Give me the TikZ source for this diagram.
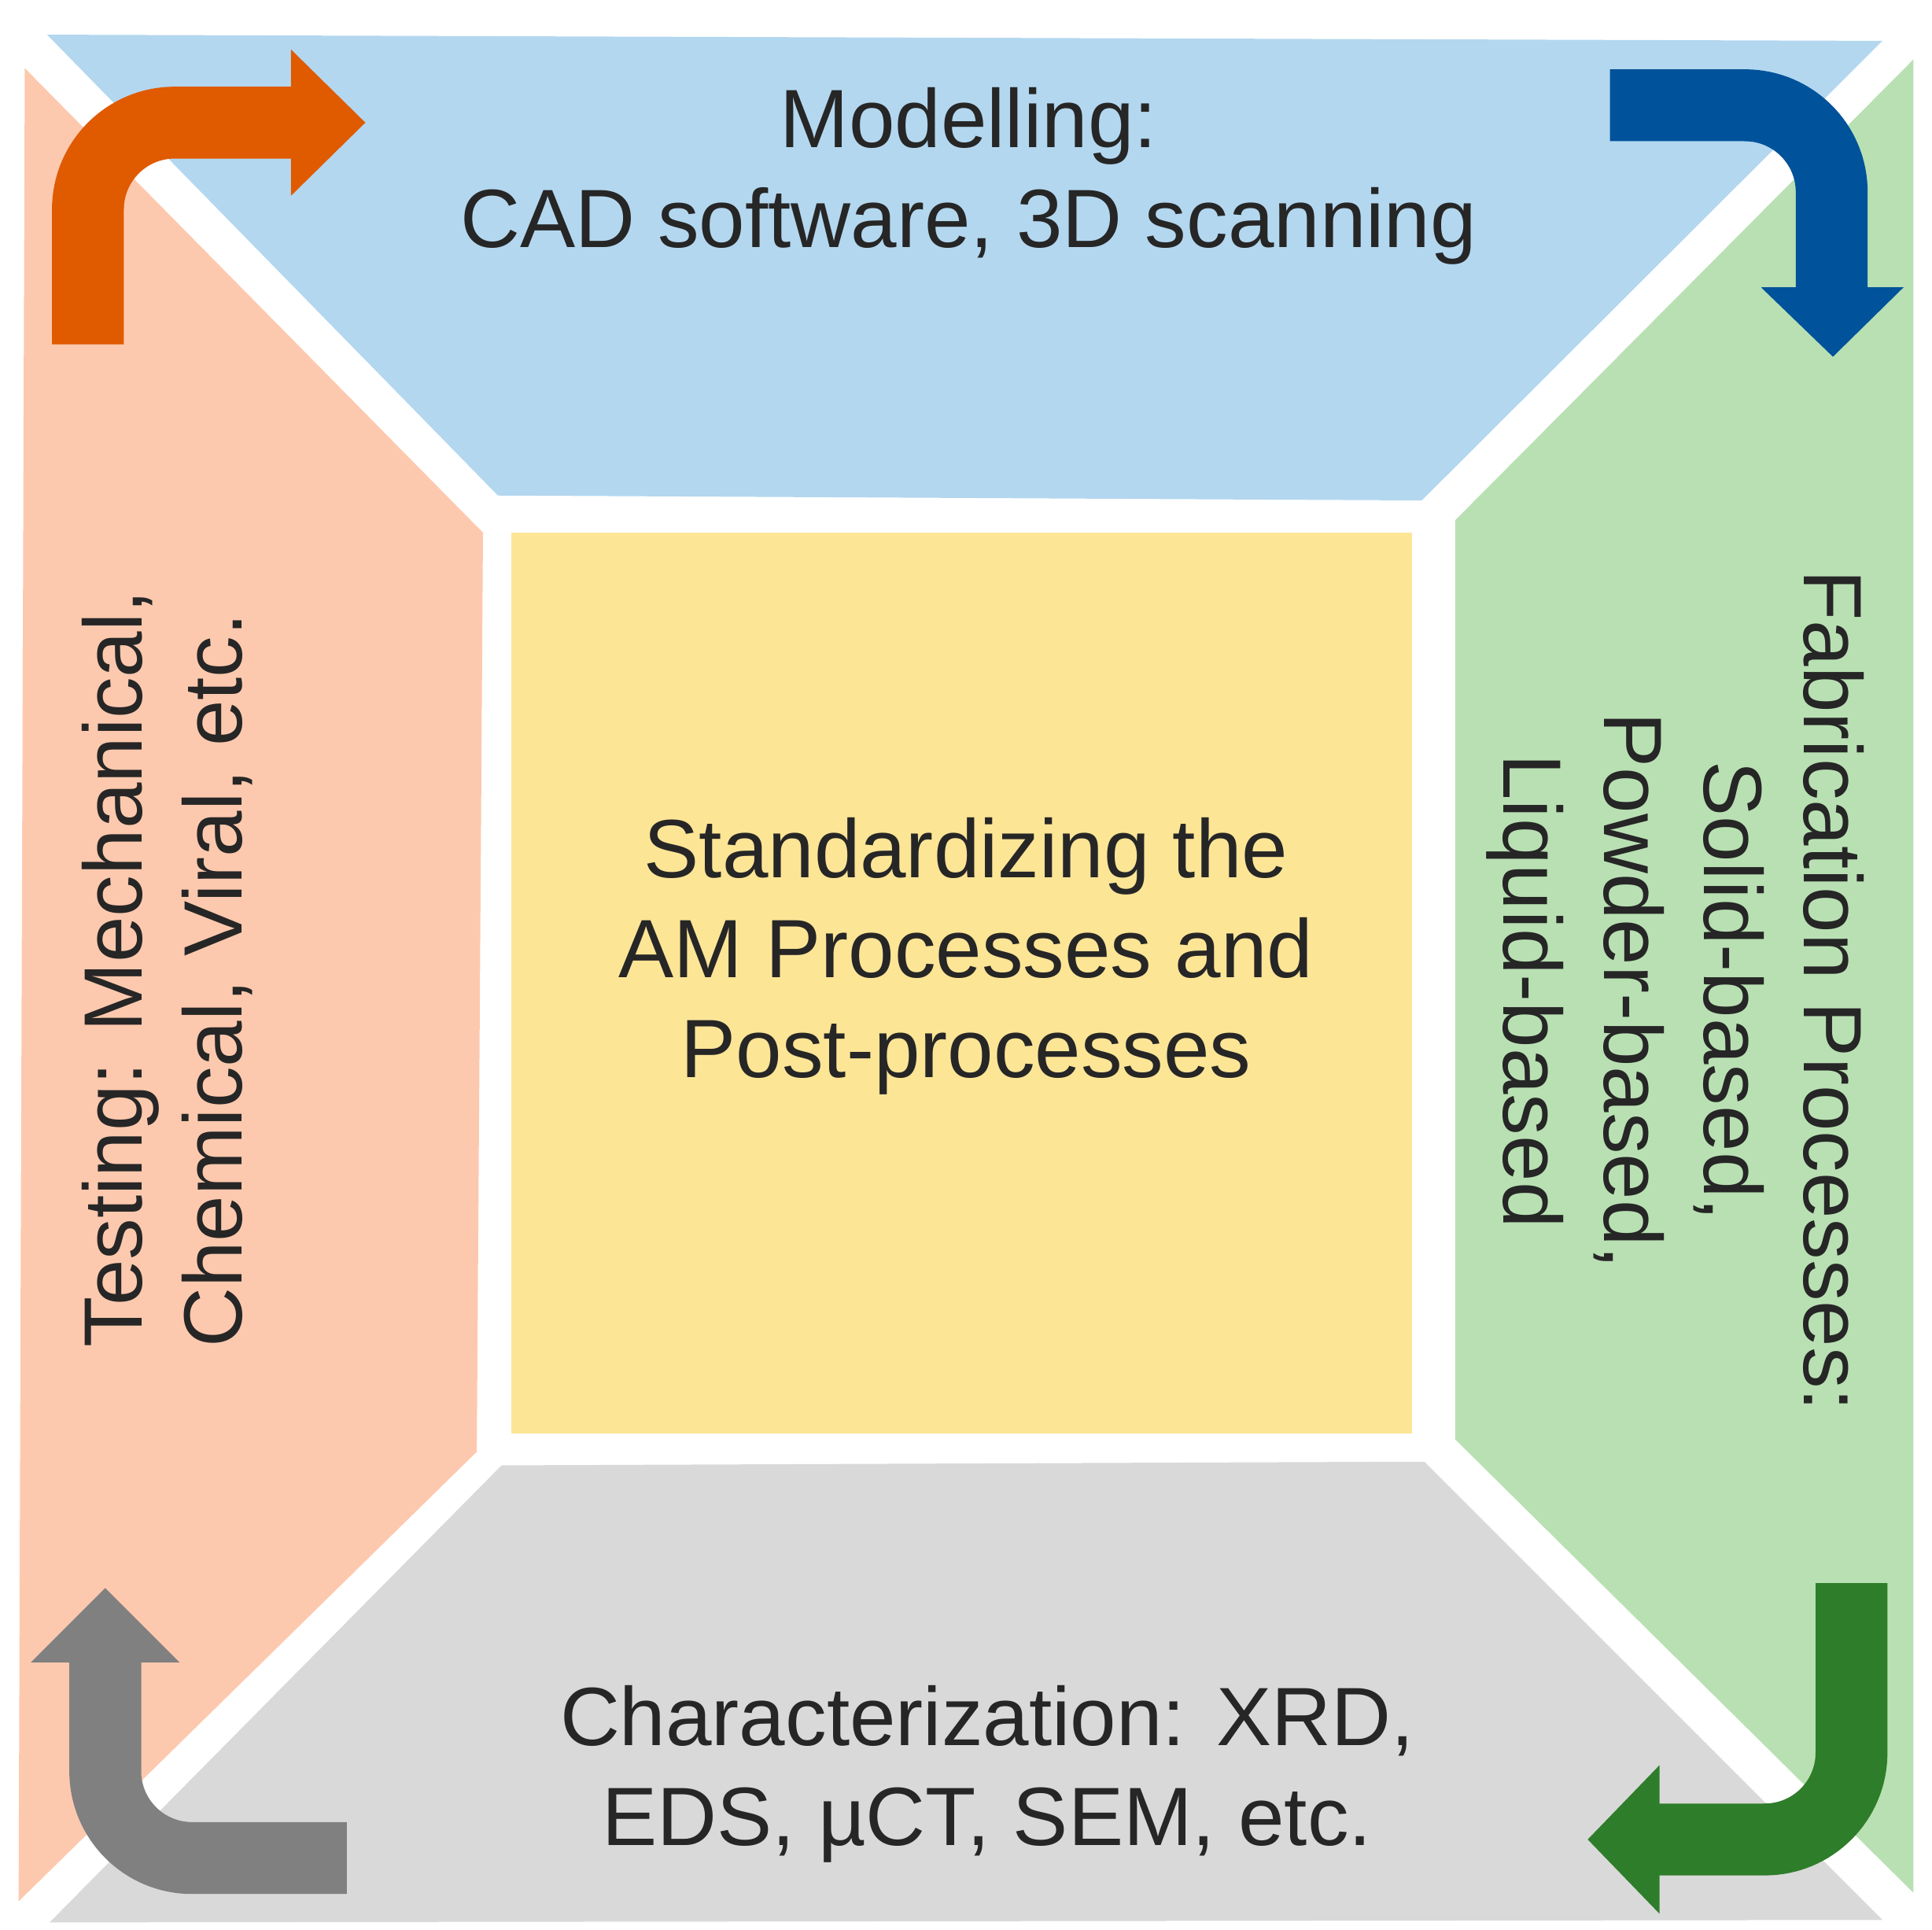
\documentclass[tikz,border=0pt]{standalone}
\usepackage{fontspec}
\setmainfont{Liberation Sans}
\usetikzlibrary{positioning}
\definecolor{modblue}{HTML}{B3D7EF}
\definecolor{fabgreen}{HTML}{B9E0B3}
\definecolor{chargray}{HTML}{D9D9D9}
\definecolor{testorange}{HTML}{FDC9AE}
\definecolor{stdyellow}{HTML}{FDE596}
\definecolor{arrorange}{HTML}{E05A00}
\definecolor{arrblue}{HTML}{00529B}
\definecolor{arrgreen}{HTML}{2E7D2A}
\definecolor{arrgray}{HTML}{808080}
\begin{document}
\begin{tikzpicture}[x=0.01cm,y=-0.01cm]
\tikzstyle{label} = [text=black!85,align=center,font=\fontsize{19}{23}\selectfont]
\tikzstyle{shaft} = [line width=0.58cm,rounded corners=0.7cm]

\useasboundingbox (0,0) rectangle (1560,1558);

% panels
\fill[modblue] (38,28) -- (1520,33) -- (1148,404) -- (402,400) -- cycle;
\fill[fabgreen] (1545,48) -- (1545,1528) -- (1175,1162) -- (1175,420) -- cycle;
\fill[chargray] (1150,1180) -- (1520,1550) -- (40,1552) -- (405,1183) -- cycle;
\fill[testorange] (20,55) -- (390,430) -- (385,1172) -- (15,1535) -- cycle;
\fill[stdyellow] (413,430) rectangle (1140,1157);

% texts
\node[label] (model) at (782,142) {Modelling:\\CAD software, 3D scanning};
\node[label] (std) at (780,772) {Standardizing the\\AM Processes and\\Post-processes};
\node[label] (char) at (797,1432) {Characterization: XRD,\\EDS, \textmu CT, SEM, etc.};
\node[label,align=left,rotate=90] (test) at (135,782) {Testing: Mechanical,\\Chemical, Viral, etc.};
\node[label,rotate=-90] (fab) at (1353,800) {Fabrication Processes:\\Solid-based,\\Powder-based,\\Liquid-based};

% arrows
\coordinate (o1) at (71,278); \coordinate (o2) at (236,99);
\draw[shaft,arrorange] (o1) -- (71,99) -- (o2);
\fill[arrorange] (235,40) -- (295,99) -- (235,158) -- cycle;

\coordinate (b1) at (1300,85); \coordinate (b2) at (1479,233);
\draw[shaft,arrblue] (b1) -- (1479,85) -- (b2);
\fill[arrblue] (1422,232) -- (1537,232) -- (1480,288) -- cycle;

\coordinate (g1) at (1495,1278); \coordinate (g2) at (1339,1485);
\draw[shaft,arrgreen] (g1) -- (1495,1485) -- (g2);
\fill[arrgreen] (1340,1425) -- (1282,1485) -- (1340,1545) -- cycle;

\coordinate (y1) at (280,1500); \coordinate (y2) at (85,1341);
\draw[shaft,arrgray] (y1) -- (85,1500) -- (y2);
\fill[arrgray] (25,1342) -- (85,1282) -- (145,1342) -- cycle;
\end{tikzpicture}
\end{document}
